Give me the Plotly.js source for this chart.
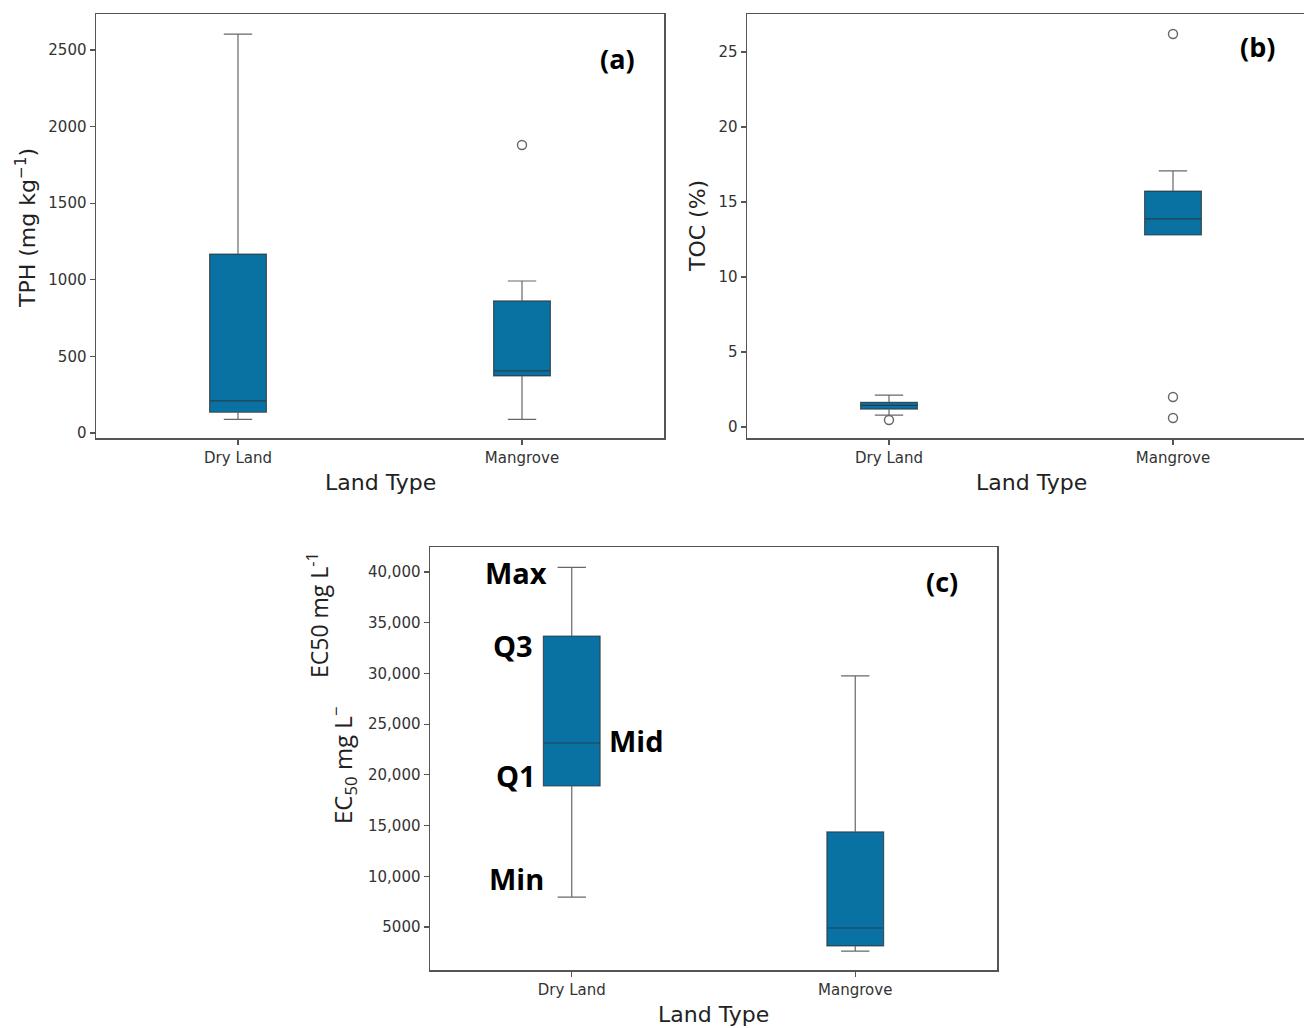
<!DOCTYPE html>
<html>
<head>
<meta charset="utf-8">
<script src="https://cdn.plot.ly/plotly-3.0.1.min.js"></script>
<style>html,body{margin:0;padding:0;background:#fff;overflow:hidden}#chart{width:1304px;height:1028px}</style>
</head>
<body>
<div id="chart"></div>
<script>
// ---- data ----
const categories = ['Dry Land', 'Mangrove'];

const tphQ1 = [135, 372];
const tphMedian = [209, 405];
const tphQ3 = [1168, 862];
const tphLower = [89, 89];
const tphUpper = [2604, 992];
const tphOutX = ['Mangrove'];
const tphOutY = [1880];

const tocQ1 = [1.2, 12.8];
const tocMedian = [1.45, 13.87];
const tocQ3 = [1.65, 15.73];
const tocLower = [0.8, 12.8];
const tocUpper = [2.13, 17.07];
const tocOutX = ['Dry Land', 'Mangrove', 'Mangrove', 'Mangrove'];
const tocOutY = [0.47, 26.2, 2.0, 0.6];

const ecQ1 = [18900, 3130];
const ecMedian = [23140, 4900];
const ecQ3 = [33690, 14370];
const ecLower = [7950, 2620];
const ecUpper = [40450, 29750];

const ecTickVals = [5000, 10000, 15000, 20000, 25000, 30000, 35000, 40000];
const ecTickText = ['5000', '10,000', '15,000', '20,000', '25,000', '30,000', '35,000', '40,000'];

// ---- styling ----
const W = 1304, H = 1028;
const px = v => v / W;
const py = v => 1 - v / H;
const boxFill = '#0a72a3';
const boxLine = 'rgba(45,45,45,0.72)';
const spine = '#555';
const tickFont = {family: '"DejaVu Sans", Verdana, sans-serif', size: 15, color: '#333'};
const titleFont = {family: '"DejaVu Sans", Verdana, sans-serif', size: 22, color: '#222'};
const labelFont = {family: '"Open Sans", sans-serif', size: 27, color: '#000', weight: 'bold'};

function boxTrace(xa, ya, q1, med, q3, lo, hi) {
  return {
    type: 'box', x: categories, q1: q1, median: med, q3: q3,
    lowerfence: lo, upperfence: hi, xaxis: xa, yaxis: ya,
    boxpoints: false, width: 0.2, whiskerwidth: 0.5,
    fillcolor: boxFill, line: {color: boxLine, width: 1.2},
    showlegend: false, hoverinfo: 'skip'
  };
}
function outTrace(xa, ya, xs, ys) {
  return {
    type: 'scatter', mode: 'markers', x: xs, y: ys, xaxis: xa, yaxis: ya,
    marker: {symbol: 'circle-open', size: 9, color: '#666', line: {width: 1.4, color: '#666'}},
    showlegend: false, hoverinfo: 'skip'
  };
}

const data = [
  boxTrace('x', 'y', tphQ1, tphMedian, tphQ3, tphLower, tphUpper),
  outTrace('x', 'y', tphOutX, tphOutY),
  boxTrace('x2', 'y2', tocQ1, tocMedian, tocQ3, tocLower, tocUpper),
  outTrace('x2', 'y2', tocOutX, tocOutY),
  boxTrace('x3', 'y3', ecQ1, ecMedian, ecQ3, ecLower, ecUpper),
];

function xax(domain, anchor, range, mirror) {
  return {domain: domain, anchor: anchor, type: 'category', categoryarray: categories,
    range: range, showline: true, linecolor: spine, linewidth: 1.5, mirror: mirror,
    ticks: 'outside', ticklen: 5, tickcolor: spine, tickwidth: 1.2,
    tickfont: tickFont, showgrid: false, zeroline: false, fixedrange: true};
}
function yax(domain, anchor, range, mirror, extra) {
  return Object.assign({domain: domain, anchor: anchor, range: range,
    showline: true, linecolor: spine, linewidth: 1.5, mirror: mirror,
    ticks: 'outside', ticklen: 5, tickcolor: spine, tickwidth: 1.2,
    tickfont: tickFont, showgrid: false, zeroline: false, fixedrange: true}, extra || {});
}

const ann = [];
function txt(text, x, y, font, angle) {
  ann.push({text: text, x: px(x), y: py(y), xref: 'paper', yref: 'paper',
    showarrow: false, xanchor: 'center', yanchor: 'middle', font: font, textangle: angle || 0});
}
// axis titles
txt('Land Type', 380, 482, titleFont);
txt('Land Type', 1031, 482, titleFont);
txt('Land Type', 713, 1014, titleFont);
txt('TPH (mg kg<sup>−1</sup>)', 26, 228, titleFont, -90);
txt('TOC (%)', 697, 226, titleFont, -90);
txt('EC50 mg L<sup>-1</sup>', 318, 615, {family: '"Open Sans", sans-serif', size: 23, color: '#222'}, -90);
txt('EC<sub>50</sub> mg L<sup>−</sup>', 343, 765, {family: '"Open Sans", sans-serif', size: 24, color: '#222'}, -90);
// panel labels
txt('(a)', 617, 58, labelFont);
txt('(b)', 1257, 47, labelFont);
txt('(c)', 942, 581, labelFont);
// box annotations (c)
const bigFont = {family: '"Open Sans", sans-serif', size: 29, color: '#000', weight: 'bold'};
txt('Max', 516, 572, bigFont);
txt('Q3', 513, 645, bigFont);
txt('Mid', 636, 740, bigFont);
txt('Q1', 516, 775, bigFont);
txt('Min', 516, 878, bigFont);

const layout = {
  width: W, height: H, margin: {l: 0, r: 0, t: 0, b: 0},
  paper_bgcolor: '#fff', plot_bgcolor: '#fff', showlegend: false,
  xaxis: xax([px(96), px(664)], 'y', [-0.5, 1.5], true),
  yaxis: yax([py(438), py(14)], 'x', [-33, 2735], true),
  xaxis2: xax([px(747), 1], 'y2', [-0.5, -0.5 + 557 / 284], true),
  yaxis2: yax([py(438), py(14)], 'x2', [-0.73, 27.53], false),
  xaxis3: xax([px(430), px(997)], 'y3', [-0.5, 1.5], true),
  yaxis3: yax([py(970), py(547)], 'x3', [761, 42465], true,
    {tickmode: 'array', tickvals: ecTickVals, ticktext: ecTickText}),
  annotations: ann
};

Plotly.newPlot('chart', data, layout, {displayModeBar: false, staticPlot: true});
</script>
</body>
</html>
